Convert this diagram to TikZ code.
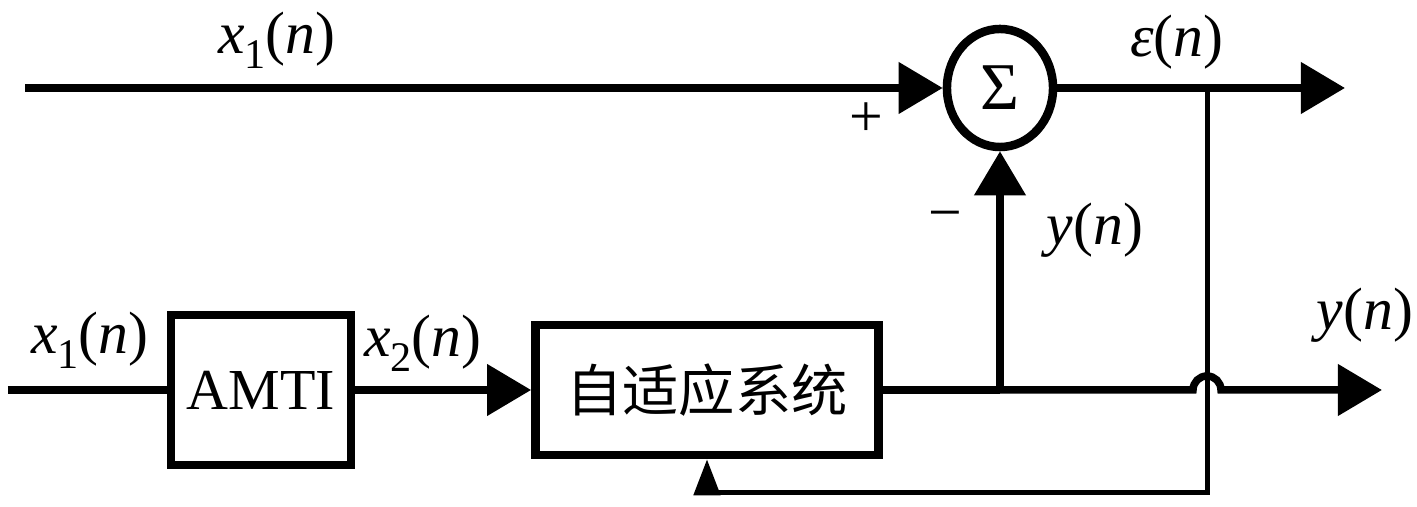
\documentclass[tikz,border=0pt]{standalone}
\usepackage{fontspec}
\setmainfont{Liberation Serif}
\newfontfamily\cjk{Noto Sans CJK SC}
\usetikzlibrary{arrows.meta,shapes.geometric}
\newcommand{\lbsub}[1]{\raisebox{-0.55ex}{\fontsize{12}{12}\selectfont #1}}
\newcommand{\sig}[2]{\textit{#1}\lbsub{#2}(\textit{n})}
\tikzset{
  lbl/.style={inner sep=0pt, font=\fontsize{17}{20}\selectfont},
  blk/.style={draw, line width=0.085cm, inner sep=0pt},
  main/.style={line width=0.075cm},
  thin/.style={line width=0.05cm},
  arr/.style={main, -{Triangle[length=0.44cm,width=0.5cm]}},
  farr/.style={thin, -{Triangle[length=0.36cm,width=0.26cm]}}
}
\begin{document}
\begin{tikzpicture}[x=0.01cm,y=-0.01cm]
\useasboundingbox (0,0) rectangle (1417,507);
% blocks
\node[blk, ellipse, minimum width=1.06cm, minimum height=1.18cm, font=\fontsize{19}{22}\selectfont] (sum) at (1000,88) {Σ};
\node[blk, minimum width=1.8cm, minimum height=1.5cm, font=\fontsize{16.5}{20}\selectfont] (amti) at (261,390) {AMTI};
\node[blk, minimum width=3.43cm, minimum height=1.3cm, font=\cjk\fontsize{16}{20}\selectfont] (adapt) at (707,390) {自适应系统};
% coordinates
\coordinate (in1) at (25,88);
\coordinate (out1) at (1345,88);
\coordinate (br) at (1207,88);
\coordinate (fb1) at (1207,493);
\coordinate (fb2) at (707,493);
\coordinate (in2) at (8,390);
\coordinate (j) at (1000,390);
\coordinate (jb) at (1193,390);
\coordinate (out2) at (1382,390);
% connectors
\draw[arr] (in1) -- (sum.west);
\draw[arr] (sum.east) -- (out1);
\draw[thin] (br) -- (fb1) -- (fb2);
\draw[farr] (fb2) -- (adapt.south);
\draw[main] (in2) -- (amti.west);
\draw[arr] (amti.east) -- (adapt.west);
\draw[main] (adapt.east) -- (j);
\draw[arr] (j) -- (sum.south);
\draw[arr] (j) -- (jb) arc[start angle=180, end angle=360, radius=14] -- (out2);
% labels
\node[lbl] (l1) at (277,40) {\sig{x}{1}};
\node[lbl] (l2) at (1177,42) {\textit{ε}(\textit{n})};
\node[lbl] (l3) at (866,120) {+};
\node[lbl] (l4) at (945,222) {−};
\node[lbl] (l5) at (1095,230) {\textit{y}(\textit{n})};
\node[lbl] (l6) at (90,340) {\sig{x}{1}};
\node[lbl] (l7) at (423,343) {\sig{x}{2}};
\node[lbl] (l8) at (1365,315) {\textit{y}(\textit{n})};
\end{tikzpicture}
\end{document}
